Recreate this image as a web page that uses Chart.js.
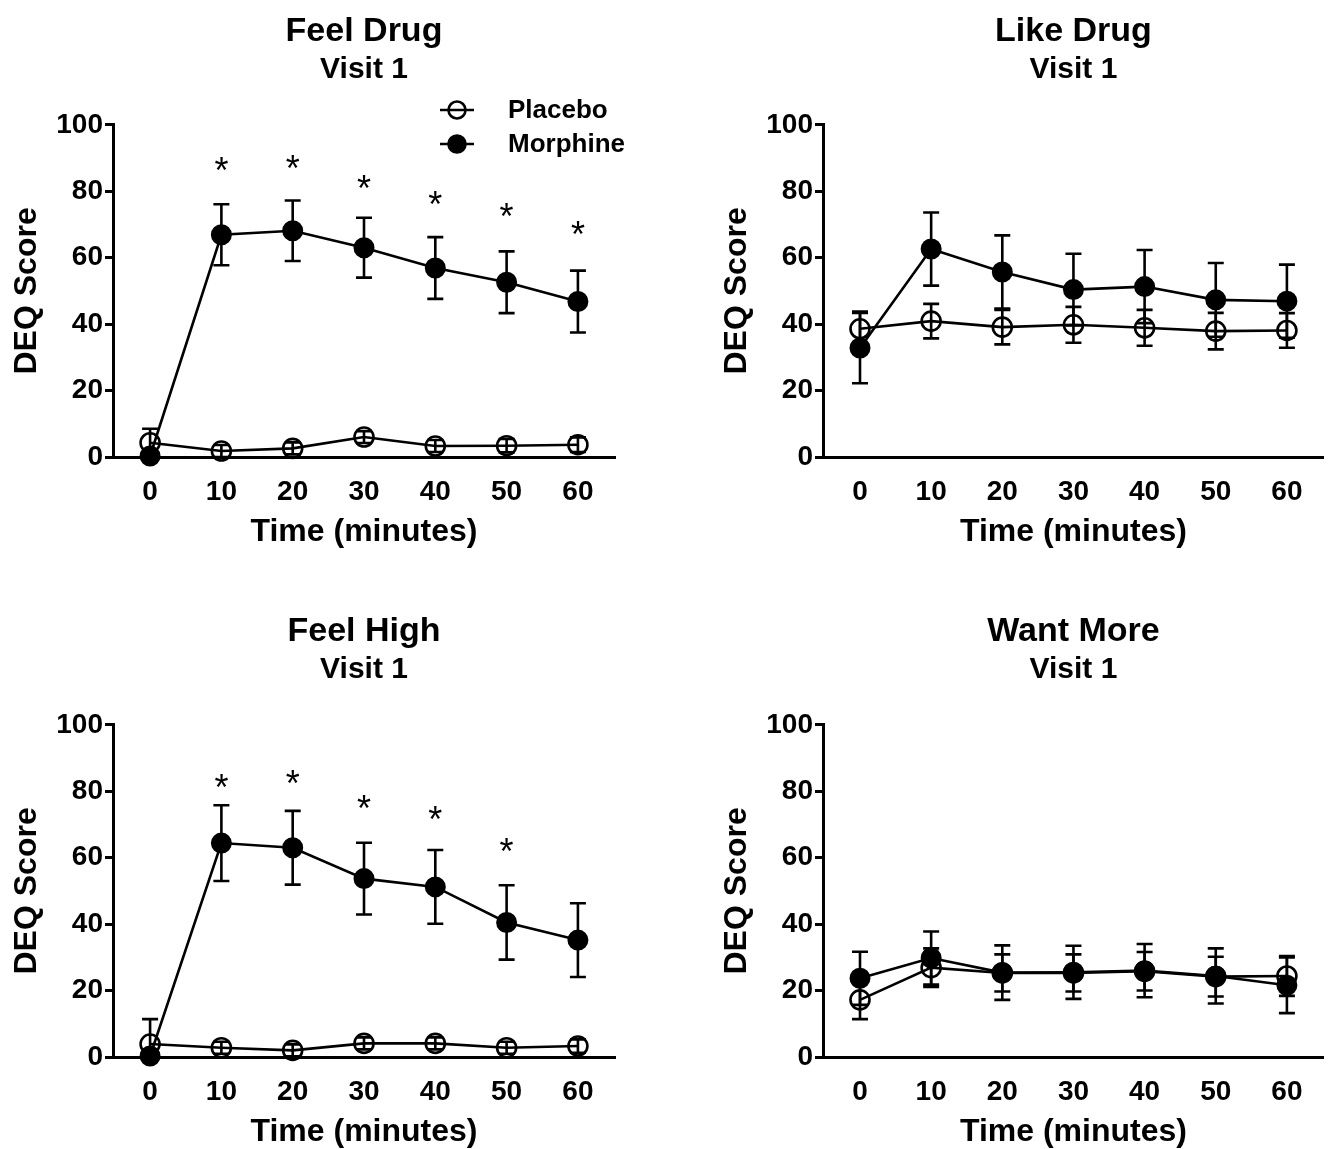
<!DOCTYPE html>
<html>
<head>
<meta charset="UTF-8">
<title>DEQ Score - Visit 1</title>
<script src="https://cdn.jsdelivr.net/npm/chart.js"></script>
<style>
  body { margin: 0; background: #fff; overflow: hidden; }
  #wrap { position: relative; width: 1336px; height: 1149px; overflow: hidden; }
  canvas { position: absolute; }
</style>
</head>
<body>
<div id="wrap">
  <canvas id="c1" width="668" height="575" style="left:0;top:0"></canvas>
  <canvas id="c2" width="626" height="575" style="left:710px;top:0"></canvas>
  <canvas id="c3" width="668" height="575" style="left:0;top:600px"></canvas>
  <canvas id="c4" width="626" height="575" style="left:710px;top:600px"></canvas>
</div>
<script>
  const times = [0, 10, 20, 30, 40, 50, 60];
  const xTicks = [0, 10, 20, 30, 40, 50, 60];
  const yTicks = [0, 20, 40, 60, 80, 100];

  // Feel Drug
  const feelDrugPlacebo = [4.3, 1.8, 2.6, 6.0, 3.3, 3.4, 3.7];
  const feelDrugPlaceboErr = [4.2, 1.8, 1.8, 1.8, 1.8, 2.0, 2.2];
  const feelDrugMorphine = [0.3, 66.9, 68.1, 63.0, 56.9, 52.6, 46.8];
  const feelDrugMorphineErr = [0, 9.2, 9.1, 9.0, 9.3, 9.3, 9.3];
  const feelDrugStars = [null, 88.3, 88.9, 82.9, 78.1, 74.5, 68.8];

  // Like Drug
  const likeDrugPlacebo = [38.6, 40.9, 39.1, 39.8, 38.9, 37.9, 38.1];
  const likeDrugPlaceboErr = [5.2, 5.2, 5.2, 5.4, 5.4, 5.5, 5.2];
  const likeDrugMorphine = [32.8, 62.6, 55.7, 50.4, 51.3, 47.3, 46.9];
  const likeDrugMorphineErr = [10.6, 11.0, 11.0, 10.8, 11.0, 11.1, 11.0];
  const likeDrugStars = [null, null, null, null, null, null, null];

  // Feel High
  const feelHighPlacebo = [3.9, 2.8, 2.0, 4.1, 4.1, 2.8, 3.3];
  const feelHighPlaceboErr = [7.5, 1.8, 1.8, 1.8, 1.8, 1.8, 2.0];
  const feelHighMorphine = [0.3, 64.4, 63.0, 53.7, 51.2, 40.5, 35.2];
  const feelHighMorphineErr = [0, 11.4, 11.1, 10.8, 11.1, 11.2, 11.1];
  const feelHighStars = [null, 83.2, 84.4, 76.9, 73.3, 63.7, null];

  // Want More
  const wantMorePlacebo = [17.2, 26.9, 25.3, 25.3, 25.8, 24.2, 24.4];
  const wantMorePlaceboErr = [5.8, 5.8, 5.6, 5.6, 5.8, 6.0, 6.0];
  const wantMoreMorphine = [23.7, 29.8, 25.4, 25.5, 26.0, 24.4, 21.6];
  const wantMoreMorphineErr = [8.0, 8.0, 8.2, 8.0, 8.0, 8.3, 8.4];
  const wantMoreStars = [null, null, null, null, null, null, null];

  const FONT = "'Liberation Sans', Arial, sans-serif";

  // error bars + asterisks, drawn through the chart's scales
  const errorBarPlugin = {
    id: 'errorBars',
    afterDatasetsDraw(chart) {
      const ctx = chart.ctx;
      const xs = chart.scales.x, ys = chart.scales.y;
      ctx.save();
      ctx.strokeStyle = '#000';
      ctx.lineWidth = 2.6;
      chart.data.datasets.forEach(ds => {
        ds.data.forEach((p, i) => {
          const e = ds.errors[i];
          if (!e || e < 0.5) return;
          const x = xs.getPixelForValue(p.x);
          const yt = ys.getPixelForValue(p.y + e);
          const yb = ys.getPixelForValue(Math.max(p.y - e, 0));
          ctx.beginPath();
          ctx.moveTo(x, yt); ctx.lineTo(x, yb);
          ctx.moveTo(x - 8, yt); ctx.lineTo(x + 8, yt);
          ctx.moveTo(x - 8, yb); ctx.lineTo(x + 8, yb);
          ctx.stroke();
        });
      });
      const stars = chart.options.plugins.errorBars.stars || [];
      ctx.fillStyle = '#000';
      ctx.font = '36px ' + FONT;
      ctx.textAlign = 'center';
      ctx.textBaseline = 'alphabetic';
      stars.forEach((s, i) => {
        if (s == null) return;
        const x = xs.getPixelForValue(times[i]);
        const y = ys.getPixelForValue(s);
        ctx.fillText('*', x, y + 19);
      });
      ctx.restore();
    }
  };

  const legendPlugin = {
    id: 'sideLegend',
    afterDraw(chart) {
      const opts = chart.options.plugins.sideLegend;
      if (!opts || !opts.show) return;
      const ctx = chart.ctx;
      ctx.save();
      ctx.font = 'bold 26px ' + FONT;
      ctx.textBaseline = 'middle';
      ctx.textAlign = 'left';
      chart.data.datasets.forEach((ds, k) => {
        const y = opts.y + k * 34;
        ctx.strokeStyle = '#000';
        ctx.lineWidth = 2.6;
        ctx.beginPath();
        ctx.moveTo(opts.x, y); ctx.lineTo(opts.x + 34, y);
        ctx.stroke();
        ctx.beginPath();
        ctx.arc(opts.x + 17, y, 8.5, 0, Math.PI * 2);
        if (ds.filled) { ctx.fillStyle = '#000'; ctx.fill(); }
        ctx.stroke();
        ctx.fillStyle = '#000';
        ctx.fillText(ds.label, opts.x + 68, y + 1);
      });
      ctx.restore();
    }
  };

  function series(vals) {
    return vals.map((v, i) => ({ x: times[i], y: v }));
  }

  function makeChart(id, title, placebo, placeboErr, morphine, morphineErr, stars, showLegend, padRight) {
    return new Chart(document.getElementById(id), {
      type: 'line',
      data: {
        datasets: [
          {
            label: 'Placebo', data: series(placebo), errors: placeboErr, filled: false,
            borderColor: '#000', borderWidth: 2.6,
            pointRadius: 9.5, pointBorderWidth: 2.6,
            pointBackgroundColor: 'rgba(0,0,0,0)', pointBorderColor: '#000',
            clip: false, tension: 0
          },
          {
            label: 'Morphine', data: series(morphine), errors: morphineErr, filled: true,
            borderColor: '#000', borderWidth: 2.6,
            pointRadius: 9.5, pointBorderWidth: 2,
            pointBackgroundColor: '#000', pointBorderColor: '#000',
            clip: false, tension: 0
          }
        ]
      },
      options: {
        responsive: false,
        animation: false,
        devicePixelRatio: 1,
        layout: { padding: { top: 11, right: padRight, left: 0, bottom: 0 } },
        plugins: {
          legend: { display: false },
          tooltip: { enabled: false },
          title: {
            display: true, text: title, fullSize: false, color: '#000',
            font: { family: FONT, size: 34, weight: 'bold' },
            padding: { top: 0, bottom: 0 }
          },
          subtitle: {
            display: true, text: 'Visit 1', fullSize: false, color: '#000',
            font: { family: FONT, size: 30, weight: 'bold' },
            padding: { top: 0, bottom: 37 }
          },
          errorBars: { stars: stars },
          sideLegend: { show: showLegend, x: 440, y: 110 }
        },
        scales: {
          x: {
            type: 'linear', min: -5.2, max: 65.2,
            afterBuildTicks: s => { s.ticks = xTicks.map(v => ({ value: v })); },
            afterFit: s => { s.height = 118; },
            grid: { display: false },
            border: { color: '#000', width: 3 },
            ticks: { color: '#000', padding: 10, maxRotation: 0, font: { family: FONT, size: 28, weight: 'bold' } },
            title: {
              display: true, text: 'Time (minutes)', color: '#000',
              font: { family: FONT, size: 32, weight: 'bold' },
              padding: { top: 0, bottom: 24 }
            }
          },
          y: {
            min: 0, max: 100,
            afterBuildTicks: s => { s.ticks = yTicks.map(v => ({ value: v })); },
            afterFit: s => { s.width = 113; },
            grid: { drawOnChartArea: false, drawTicks: true, tickLength: 8, color: '#000', lineWidth: 3 },
            border: { color: '#000', width: 3 },
            ticks: { color: '#000', padding: 2, font: { family: FONT, size: 28, weight: 'bold' } },
            title: {
              display: true, text: 'DEQ Score', color: '#000',
              font: { family: FONT, size: 32, weight: 'bold' },
              padding: { top: 8, bottom: 0 }
            }
          }
        }
      },
      plugins: [errorBarPlugin, legendPlugin]
    });
  }

  makeChart('c1', 'Feel Drug', feelDrugPlacebo, feelDrugPlaceboErr, feelDrugMorphine, feelDrugMorphineErr, feelDrugStars, true, 53);
  makeChart('c2', 'Like Drug', likeDrugPlacebo, likeDrugPlaceboErr, likeDrugMorphine, likeDrugMorphineErr, likeDrugStars, false, 11);
  makeChart('c3', 'Feel High', feelHighPlacebo, feelHighPlaceboErr, feelHighMorphine, feelHighMorphineErr, feelHighStars, false, 53);
  makeChart('c4', 'Want More', wantMorePlacebo, wantMorePlaceboErr, wantMoreMorphine, wantMoreMorphineErr, wantMoreStars, false, 11);
</script>
</body>
</html>
